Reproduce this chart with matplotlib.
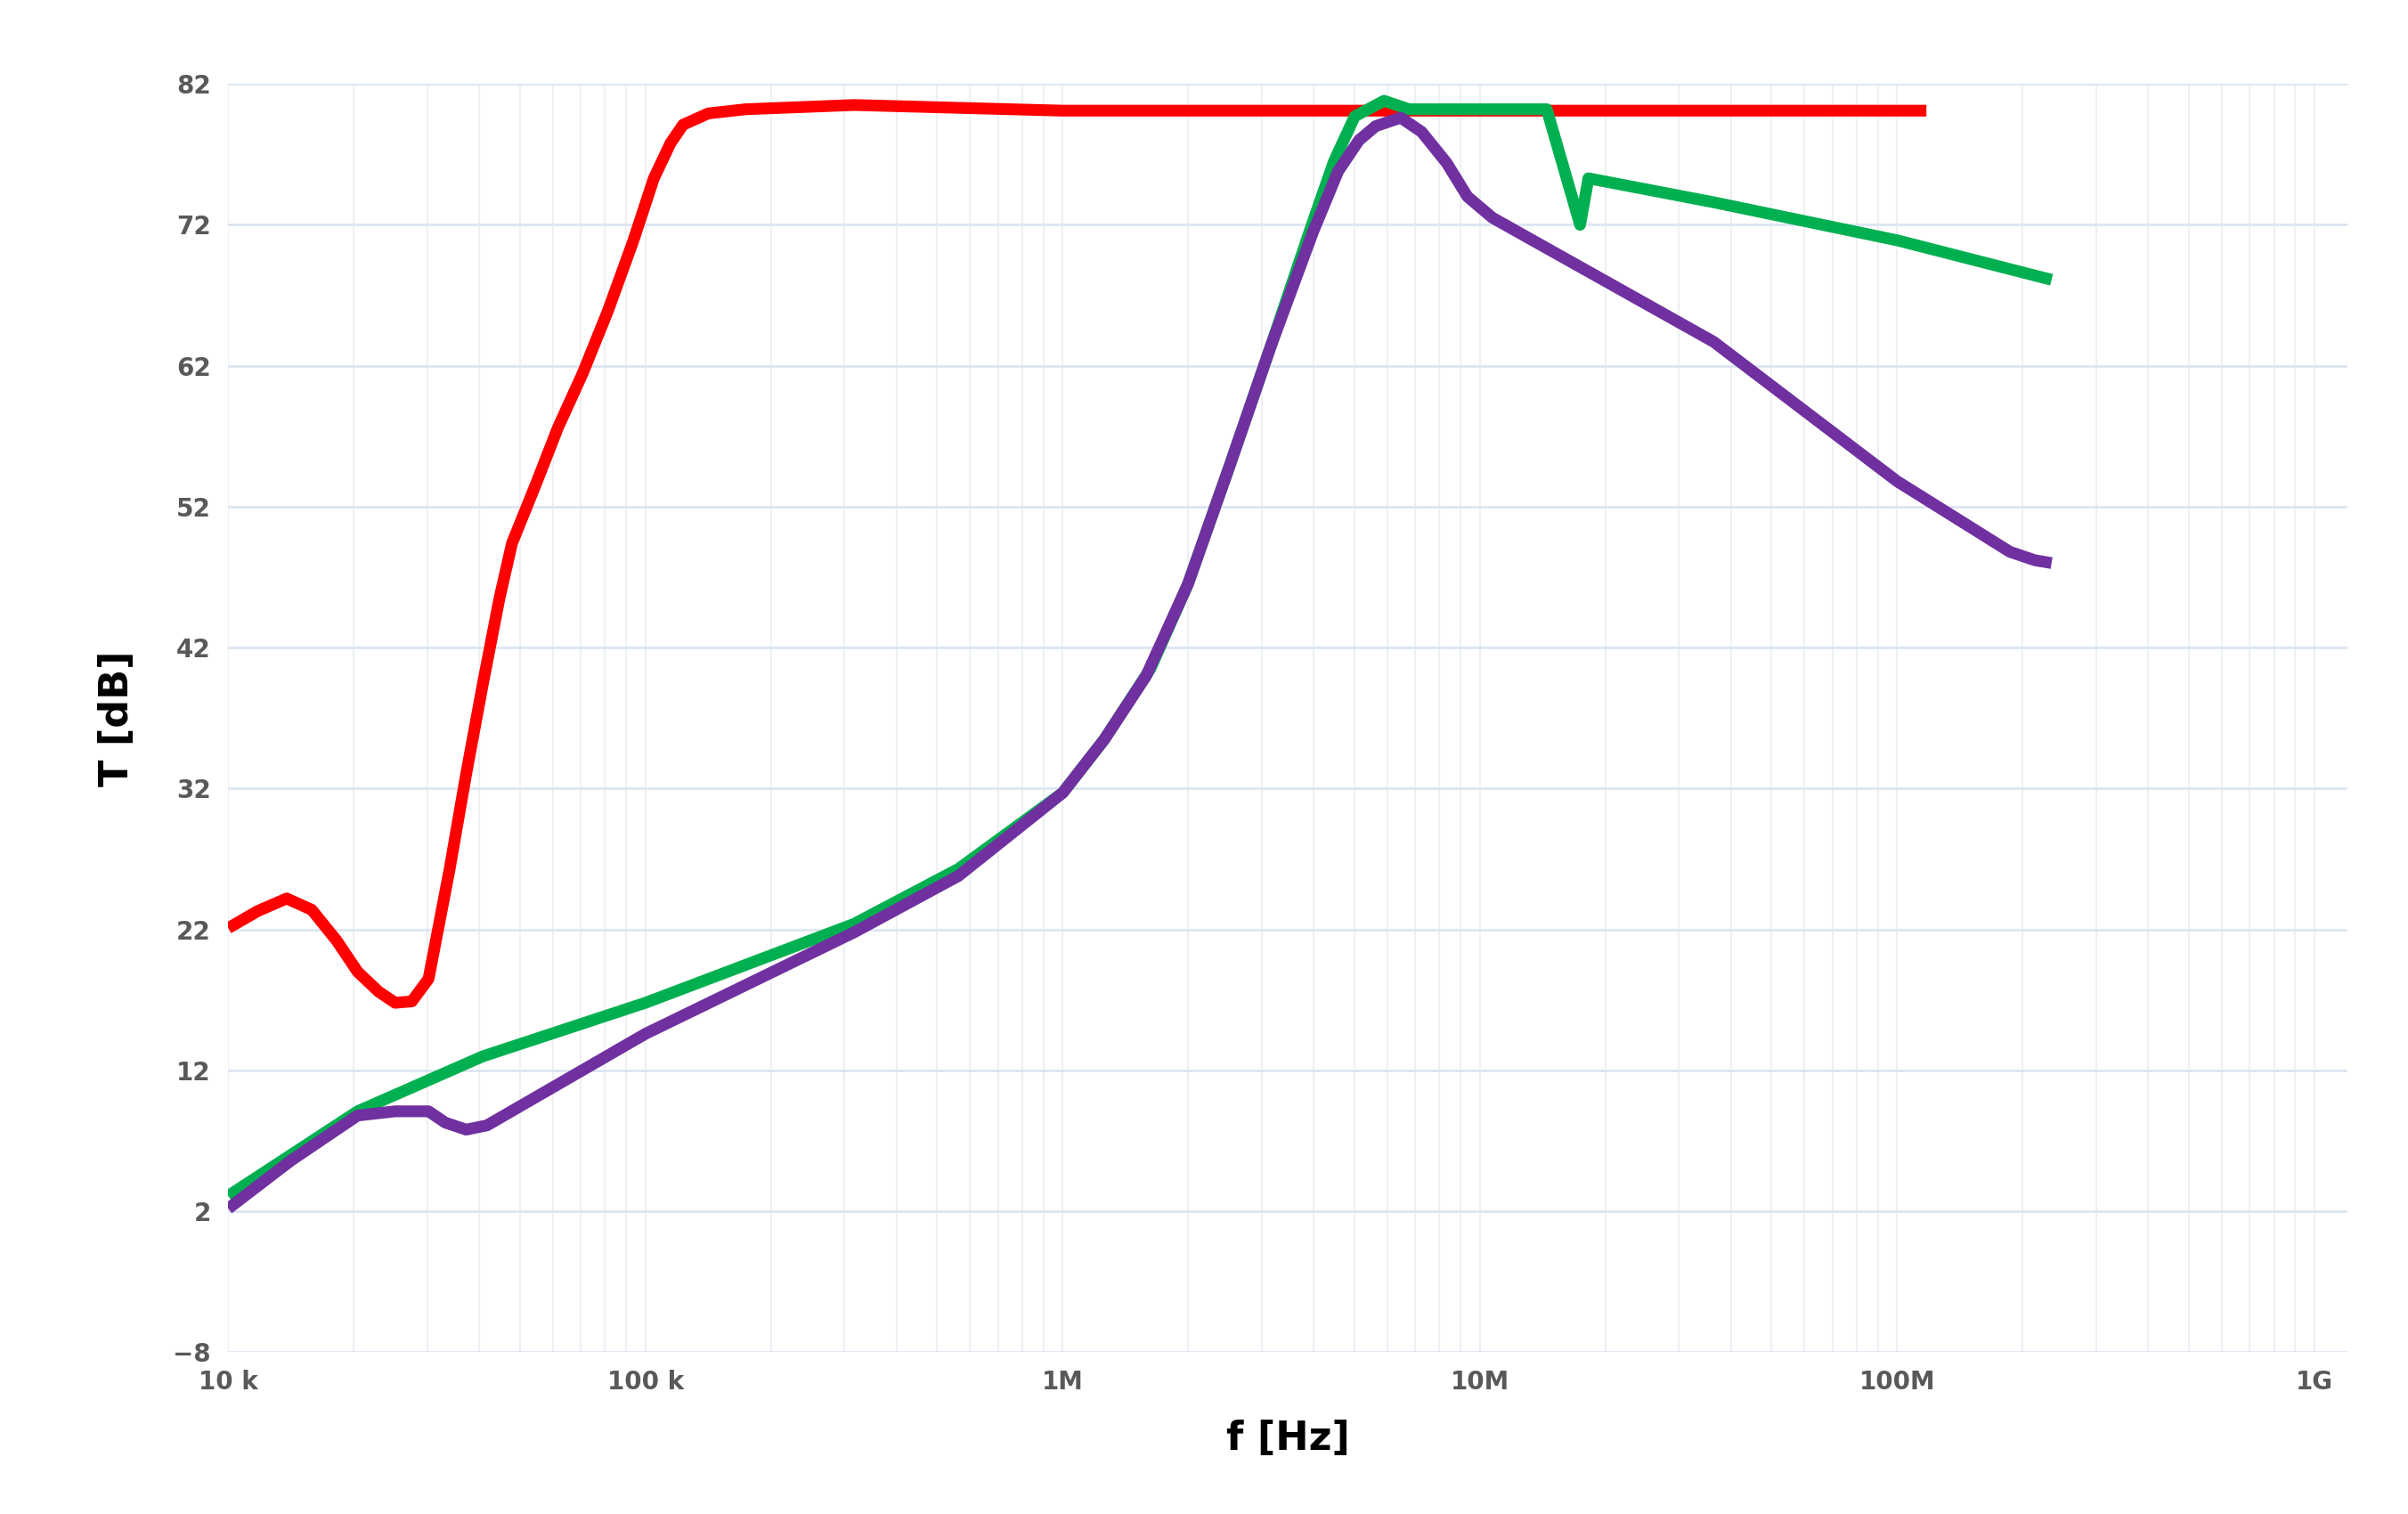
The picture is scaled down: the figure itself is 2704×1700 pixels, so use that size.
import numpy as np
import matplotlib
matplotlib.use("Agg")
import matplotlib.pyplot as plt

red_logf = [4.0, 4.07, 4.14, 4.2, 4.26, 4.31, 4.36, 4.40, 4.44, 4.48, 4.53, 4.57, 4.61, 4.65, 4.68, 4.74, 4.79, 4.85, 4.91, 4.97, 5.02, 5.06, 5.09, 5.15, 5.24, 5.5, 6.0, 8.07]
red_db = [22.1, 23.3, 24.2, 23.4, 21.2, 19.0, 17.6, 16.8, 16.9, 18.5, 26.2, 33.0, 39.4, 45.5, 49.4, 53.8, 57.6, 61.5, 65.9, 70.8, 75.3, 77.8, 79.1, 79.9, 80.2, 80.5, 80.1, 80.1]

green_logf = [4.0, 4.31, 4.61, 5.0, 5.5, 5.75, 6.0, 6.1, 6.21, 6.3, 6.4, 6.5, 6.59, 6.65, 6.7, 6.77, 6.83, 7.16, 7.24, 7.26, 7.56, 8.0, 8.37]
green_db = [3.1, 9.1, 13.0, 16.8, 22.4, 26.3, 31.7, 35.5, 40.5, 46.5, 54.9, 63.5, 71.4, 76.5, 79.7, 80.8, 80.2, 80.2, 72.0, 75.3, 73.6, 70.9, 68.1]

purple_logf = [4.0, 4.15, 4.31, 4.40, 4.48, 4.52, 4.57, 4.62, 5.0, 5.5, 5.75, 6.0, 6.1, 6.2, 6.3, 6.4, 6.5, 6.55, 6.6, 6.66, 6.71, 6.75, 6.81, 6.86, 6.92, 6.97, 7.03, 7.56, 8.0, 8.27, 8.33, 8.37]
purple_db = [2.2, 5.6, 8.8, 9.1, 9.1, 8.3, 7.8, 8.1, 14.6, 21.8, 25.8, 31.7, 35.5, 40.0, 46.5, 54.9, 63.5, 67.5, 71.5, 75.8, 78.0, 79.0, 79.6, 78.6, 76.4, 74.0, 72.5, 63.7, 53.8, 48.8, 48.2, 48.0]

yticks = [-8, 2, 12, 22, 32, 42, 52, 62, 72, 82]
xtick_vals = [1e4, 1e5, 1e6, 1e7, 1e8, 1e9]
xtick_labels = ["10 k", "100 k", "1M", "10M", "100M", "1G"]

fig = plt.figure(figsize=(27.04, 17), dpi=100)
ax = fig.add_axes([0.0948, 0.1068, 0.8802, 0.8378])

for lf, db, c in [(red_logf, red_db, "#ff0000"), (green_logf, green_db, "#00b050"), (purple_logf, purple_db, "#7030a0")]:
    ax.plot(10 ** np.array(lf), db, color=c, lw=9.5, solid_capstyle="butt", solid_joinstyle="round")

ax.set_xscale("log")
ax.set_xlim(1e4, 10 ** 9.08)
ax.set_ylim(-8, 82)
ax.set_yticks(yticks)
ax.set_xticks(xtick_vals)
ax.set_xticklabels(xtick_labels)
ax.grid(True, which="major", axis="y", color="#dce6f2", lw=2)
ax.grid(True, which="both", axis="x", color="#eef0f3", lw=1.5)
for s in ax.spines.values():
    s.set_visible(False)
ax.tick_params(which="both", length=0, labelsize=20, labelcolor="#595959", pad=14)
for t in ax.get_xticklabels() + ax.get_yticklabels():
    t.set_fontweight("bold")
ax.set_xlabel("f [Hz]", fontsize=32, fontweight="bold", labelpad=20)
ax.set_ylabel("T [dB]", fontsize=32, fontweight="bold", labelpad=30)
ax.set_axisbelow(True)
fig.savefig("out.png", dpi=100)
